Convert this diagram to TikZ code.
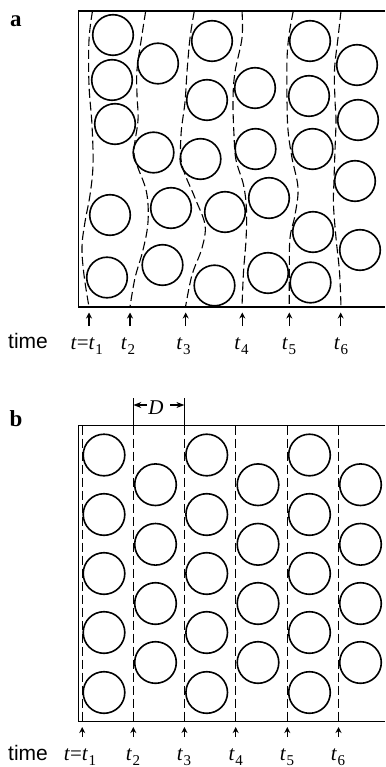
\documentclass[tikz,border=0pt]{standalone}
\usepackage{fontspec}
\setmainfont{Liberation Serif}
\setsansfont{Liberation Sans}
\usetikzlibrary{arrows.meta}
\newcommand\tlab[1]{\textit{t}\kern0.5pt\raisebox{-0.25em}{\fontsize{15}{15}\selectfont #1}}
\begin{document}
\begin{tikzpicture}[x=1pt,y=-1pt,
 frame/.style={line width=1.1pt},
 ball/.style={line width=1.6pt},
 dashcurve/.style={line width=1.1pt, dash pattern=on 9pt off 4pt},
 tarrow/.style={line width=1.1pt,-{Stealth[length=6pt,width=6pt]}},
 darrow/.style={line width=1.1pt,-{Stealth[length=8pt,width=6pt]}},
 tlabel/.style={anchor=base,inner sep=0pt,font=\fontsize{21}{24}\selectfont},
 timelabel/.style={anchor=base west,inner sep=0pt,font=\sffamily\fontsize{21}{24}\selectfont},
 panel/.style={anchor=base west,inner sep=0pt,font=\bfseries\fontsize{23}{24}\selectfont}]
\useasboundingbox (0,0) rectangle (385,767);

% ---------------- panel a ----------------
\node[panel] (pa) at (10,26.7) {a};
\draw[frame] (385,11) -- (78.3,11) -- (78.3,307) -- (385,307);
\foreach \cx/\cy in {113/35,112/80,115/124,110/215,107/277.5,
  158/63.5,153.5/152.5,171/208,162.5/265,
  212/41,207/100,200.5/159,225/212,214.5/285.5,
  255/88,255.5/149,269/198,268/273,
  310/41,309/96,312.5/149,313/232,310.5/282.5,
  357/65,358/120,355/181,360/250}
  \draw[ball] (\cx,\cy) circle[radius=20.3pt];
\draw[dashcurve] plot[smooth,tension=0.6] coordinates {(92.5,11) (89,40) (89,85) (92,125) (93,165) (90,195) (85,222) (82,247) (84,275) (89,307)};
\draw[dashcurve] plot[smooth,tension=0.6] coordinates {(145.7,11) (141.5,38) (137,70) (137,95) (138,120) (134,150) (137,165) (146.5,192) (148,222) (143,250) (135,278) (130,307)};
\draw[dashcurve] plot[smooth,tension=0.6] coordinates {(194.3,11) (190,38) (187,72) (185,102) (181,135) (182,165) (195,198) (205,225) (202,248) (192,275) (185.5,307)};
\draw[dashcurve] plot[smooth,tension=0.6] coordinates {(242,11) (242,38) (235,72) (233,100) (234,135) (236,160) (243.5,185) (246.5,210) (246,240) (243.5,272) (242,307)};
\draw[dashcurve] plot[smooth,tension=0.6] coordinates {(293.3,11) (289,35) (287,60) (287,100) (288,130) (292,158) (298,188) (295,215) (290,238) (289.3,272) (289.3,307)};
\draw[dashcurve] plot[smooth,tension=0.6] coordinates {(341,11) (338,38) (334.5,70) (335,100) (336,120) (335,150) (334,180) (333.5,205) (336,238) (339.5,272) (341,307)};
\foreach \i/\x in {1/89,2/130,3/185.7,4/242.3,5/289.3,6/340.7}{
  \coordinate (aT\i) at (\x,326);
  \coordinate (aH\i) at (\x,312.5);
  \draw[tarrow] (aT\i) -- (aH\i);
}
\node[timelabel] (timea) at (8,348.5) {time};
\node[tlabel] (ta1) at (86.7,349) {\textit{t}=\tlab{1}};
\node[tlabel] (ta2) at (128,349) {\tlab{2}};
\node[tlabel] (ta3) at (183.5,349) {\tlab{3}};
\node[tlabel] (ta4) at (241.5,349) {\tlab{4}};
\node[tlabel] (ta5) at (289,349) {\tlab{5}};
\node[tlabel] (ta6) at (341,349) {\tlab{6}};

% ---------------- panel b ----------------
\node[panel] (pb) at (9.5,426.7) {b};
\draw[frame] (385,425.7) -- (78.5,425.7) -- (78.5,721.7) -- (385,721.7);
\foreach \cx in {104,206.7,309.5}
  \foreach \cy in {455,514.5,573.5,632.5,692.5}
    \draw[ball] (\cx,\cy) circle[radius=20.8pt];
\foreach \cx in {155.5,258,360.5}
  \foreach \cy in {484.7,544.3,603.5,662.5}
    \draw[ball] (\cx,\cy) circle[radius=20.8pt];
\foreach \i/\x in {1/82.2,2/133.3,3/184.4,4/235.7,5/287.3,6/338.5}{
  \coordinate (bU\i) at (\x,425.7);
  \coordinate (bL\i) at (\x,721.7);
  \draw[dashcurve] (bU\i) -- (bL\i);
  \coordinate (bT\i) at (\x,737);
  \coordinate (bH\i) at (\x,727);
  \draw[tarrow] (bT\i) -- (bH\i);
}
% dimension D
\coordinate (e2) at (133.3,398);
\coordinate (e3) at (184.4,398);
\draw[frame] (e2) -- (bU2);
\draw[frame] (e3) -- (bU3);
\node[inner sep=0pt,font=\itshape\fontsize{21}{24}\selectfont] (D) at (156,407.5) {D};
\coordinate (dl) at (147,405);
\coordinate (dr) at (170,405);
\draw[darrow] (dl) -- (bU2 |- dl);
\draw[darrow] (dr) -- (bU3 |- dr);
\node[timelabel] (timeb) at (8,760) {time};
\node[tlabel] (tb1) at (80,760) {\textit{t}=\tlab{1}};
\node[tlabel] (tb2) at (133,760) {\tlab{2}};
\node[tlabel] (tb3) at (184,760) {\tlab{3}};
\node[tlabel] (tb4) at (235.7,760) {\tlab{4}};
\node[tlabel] (tb5) at (287,760) {\tlab{5}};
\node[tlabel] (tb6) at (338,760) {\tlab{6}};
\end{tikzpicture}
\end{document}
